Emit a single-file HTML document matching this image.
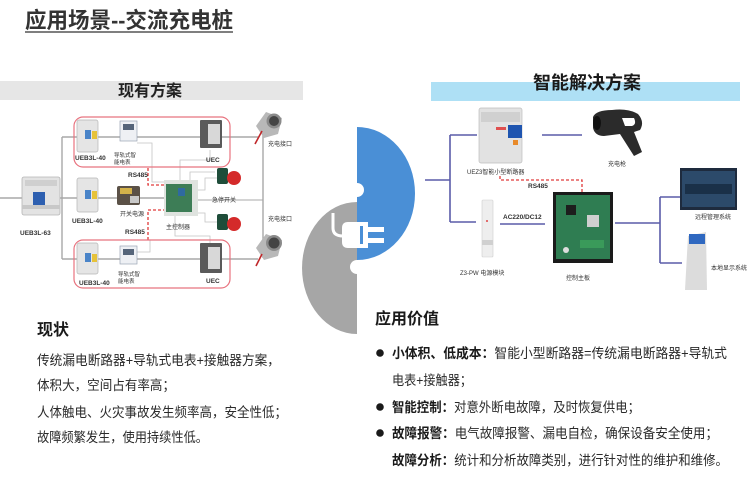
<!DOCTYPE html>
<html><head><meta charset="utf-8">
<style>
html,body{margin:0;padding:0;background:#fff;}
svg{display:block;}
text{font-family:"Liberation Sans","Noto Sans CJK SC",sans-serif;}
</style></head>
<body>
<svg width="750" height="480" viewBox="0 0 750 480" xmlns="http://www.w3.org/2000/svg">
<rect width="750" height="480" fill="#fff"/>

<!-- Title -->
<text x="25" y="28" font-size="22" font-weight="bold" fill="#333" textLength="208" lengthAdjust="spacingAndGlyphs">应用场景--交流充电桩</text>
<line x1="25" y1="32" x2="233" y2="32" stroke="#555" stroke-width="1.5"/>

<!-- Bars -->
<rect x="0" y="81" width="303" height="19" fill="#e6e6e6"/>
<text x="150" y="96" font-size="16" font-weight="bold" fill="#222" text-anchor="middle">现有方案</text>
<rect x="431" y="82" width="309" height="19" fill="#aee0f5"/>
<text x="587" y="89" font-size="18" font-weight="bold" fill="#1a1a1a" text-anchor="middle">智能解决方案</text>

<!-- LEFT DIAGRAM -->
<g stroke="#a8a8a8" stroke-width="1.4" fill="none">
  <line x1="0" y1="198" x2="22" y2="198"/>
  <line x1="60" y1="198" x2="165" y2="198"/>
  <line x1="62" y1="137" x2="62" y2="259"/>
  <line x1="62" y1="137" x2="258" y2="137"/>
  <line x1="62" y1="259" x2="258" y2="259"/>
  <line x1="263" y1="130" x2="263" y2="258"/>
  <line x1="197" y1="200" x2="263" y2="200" stroke-width="1"/>
</g>
<g stroke="#c4c4c4" stroke-width="0.8" fill="none">
  <polyline points="137,143 152,143 152,182 165,182"/>
  <polyline points="180,181 180,160 210,160 210,150"/>
  <polyline points="190,181 190,172 215,172"/>
  <polyline points="197,213 205,213 205,222 217,222"/>
  <polyline points="175,215 175,236 210,236 210,243"/>
  <polyline points="195,190 205,190 205,178 217,178"/>
  <polyline points="137,252 150,252 150,240"/>
</g>

<!-- red dashed RS485 -->
<g stroke="#e03a3a" stroke-width="1.3" stroke-dasharray="3,2" fill="none">
  <polyline points="148,168 148,185 165,185"/>
  <polyline points="148,240 148,210 165,210"/>
</g>

<!-- red rounded frames -->
<rect x="74" y="117" width="156" height="50" rx="9" fill="none" stroke="#e8737f" stroke-width="1.2"/>
<rect x="74" y="240" width="156" height="48" rx="9" fill="none" stroke="#e8737f" stroke-width="1.2"/>

<!-- UEB3L-63 main breaker -->
<rect x="22" y="177" width="38" height="38" rx="2" fill="#e3e3e3" stroke="#b5b5b5" stroke-width="0.8"/>
<rect x="25" y="180" width="32" height="6" fill="#cfcfcf"/>
<rect x="33" y="192" width="12" height="14" fill="#2d5fb0"/>
<rect x="22" y="205" width="38" height="4" fill="#c8c8c8"/>
<text x="20" y="235" font-size="6.5" font-weight="bold" fill="#333">UEB3L-63</text>

<!-- top row -->
<rect x="77" y="120" width="21" height="32" rx="2" fill="#e5e5e5" stroke="#b5b5b5" stroke-width="0.7"/>
<rect x="85" y="130" width="6" height="9" fill="#4a84c8"/>
<rect x="92" y="131" width="5" height="8" fill="#e6c23a"/>
<text x="75" y="160" font-size="6.5" font-weight="bold" fill="#333">UEB3L-40</text>
<rect x="120" y="121" width="17" height="20" fill="#eef0f4" stroke="#9aa4b4" stroke-width="0.7"/>
<rect x="123" y="124" width="11" height="6" fill="#56657a"/>
<text x="114" y="157" font-size="5.5" fill="#333">导轨式智</text>
<text x="114" y="164" font-size="5.5" fill="#333">能电表</text>
<rect x="200" y="120" width="22" height="28" rx="1" fill="#5a5a5a"/>
<rect x="208" y="124" width="12" height="20" fill="#d8d8d8"/>
<text x="206" y="162" font-size="6.5" font-weight="bold" fill="#333">UEC</text>

<!-- middle row -->
<rect x="77" y="178" width="21" height="34" rx="2" fill="#e5e5e5" stroke="#b5b5b5" stroke-width="0.7"/>
<rect x="85" y="190" width="6" height="9" fill="#4a84c8"/>
<rect x="92" y="191" width="5" height="8" fill="#e6c23a"/>
<text x="72" y="223" font-size="6.5" font-weight="bold" fill="#333">UEB3L-40</text>
<rect x="117" y="186" width="23" height="19" rx="2" fill="#5b5147"/>
<rect x="120" y="188" width="12" height="6" fill="#d4b24a"/>
<rect x="130" y="196" width="9" height="7" fill="#c9c9c9"/>
<text x="120" y="216" font-size="6" fill="#333">开关电源</text>
<rect x="164" y="180" width="34" height="36" fill="#dfe3df"/>
<rect x="166" y="184" width="26" height="28" fill="#3d7d56"/>
<rect x="178" y="188" width="7" height="8" fill="#2f6aa0"/>
<text x="166" y="229" font-size="6" fill="#333">主控制器</text>
<text x="128" y="177" font-size="6.5" font-weight="bold" fill="#333">RS485</text>
<text x="125" y="234" font-size="6.5" font-weight="bold" fill="#333">RS485</text>

<!-- bottom row -->
<rect x="77" y="243" width="21" height="31" rx="2" fill="#e5e5e5" stroke="#b5b5b5" stroke-width="0.7"/>
<rect x="85" y="253" width="6" height="9" fill="#4a84c8"/>
<rect x="92" y="254" width="5" height="8" fill="#e6c23a"/>
<text x="79" y="285" font-size="6.5" font-weight="bold" fill="#333">UEB3L-40</text>
<rect x="120" y="246" width="17" height="18" fill="#eef0f4" stroke="#9aa4b4" stroke-width="0.7"/>
<rect x="123" y="249" width="11" height="6" fill="#56657a"/>
<text x="118" y="276" font-size="5.5" fill="#333">导轨式智</text>
<text x="118" y="283" font-size="5.5" fill="#333">能电表</text>
<rect x="200" y="243" width="22" height="30" rx="1" fill="#5a5a5a"/>
<rect x="208" y="247" width="12" height="22" fill="#d8d8d8"/>
<text x="206" y="283" font-size="6.5" font-weight="bold" fill="#333">UEC</text>

<!-- emergency stops -->
<rect x="217" y="168" width="11" height="16" rx="2" fill="#1f4d3a"/>
<circle cx="234" cy="178" r="7" fill="#d42a2a"/>
<rect x="217" y="214" width="11" height="16" rx="2" fill="#1f4d3a"/>
<circle cx="234" cy="224" r="7" fill="#d42a2a"/>
<text x="212" y="202" font-size="6" fill="#333">急停开关</text>

<!-- charging ports -->
<path d="M256,126 L266,112 L282,118 L278,134 L264,138 Z" fill="#b8b8b8"/>
<circle cx="274" cy="121" r="7.5" fill="#8a8a8a"/>
<circle cx="274" cy="121" r="5" fill="#444"/>
<line x1="262" y1="131" x2="255" y2="144" stroke="#c0282a" stroke-width="1.6"/>
<text x="268" y="146" font-size="6" fill="#333">充电接口</text>
<path d="M256,248 L266,234 L282,240 L278,256 L264,260 Z" fill="#b8b8b8"/>
<circle cx="274" cy="243" r="8" fill="#8a8a8a"/>
<circle cx="274" cy="243" r="5.5" fill="#444"/>
<line x1="262" y1="254" x2="256" y2="266" stroke="#c0282a" stroke-width="1.6"/>
<text x="268" y="221" font-size="6" fill="#333">充电接口</text>

<!-- CENTER PUZZLE -->
<path d="M357,202 A55,66 0 0 0 357,334 Z" fill="#a6a6a6"/>
<path d="M357,127 A58,66.5 0 0 1 357,260 Z" fill="#4a8fd6"/>
<circle cx="357" cy="190" r="7" fill="#fff"/>
<circle cx="357" cy="267" r="7" fill="#fff"/>
<!-- plug icon -->
<path d="M333,213 L333,228 Q333,236 343,236" fill="none" stroke="#fff" stroke-width="3"/>
<path d="M348,222 L368,222 L368,248 L348,248 Q342,248 342,242 L342,228 Q342,222 348,222 Z" fill="#fff"/>
<rect x="360" y="226" width="3" height="18" fill="#4a8fd6"/>
<rect x="368" y="227" width="16" height="5" fill="#fff"/>
<rect x="368" y="238" width="16" height="5" fill="#fff"/>

<!-- RIGHT DIAGRAM -->
<g stroke="#5a5ca8" stroke-width="1.6" fill="none">
  <line x1="425" y1="180" x2="450" y2="180"/>
  <line x1="450" y1="135" x2="450" y2="222"/>
  <line x1="450" y1="135" x2="477" y2="135"/>
  <line x1="450" y1="222" x2="476" y2="222"/>
  <line x1="542" y1="135" x2="582" y2="135"/>
  <line x1="500" y1="224" x2="545" y2="224"/>
  <line x1="615" y1="223" x2="660" y2="223"/>
  <line x1="660" y1="197" x2="660" y2="263"/>
  <line x1="660" y1="197" x2="680" y2="197"/>
  <line x1="660" y1="263" x2="682" y2="263"/>
</g>
<polyline points="500,176 500,180 582,180 582,192" fill="none" stroke="#e03a3a" stroke-width="1.3" stroke-dasharray="3,2"/>

<!-- UEZ3 breaker -->
<rect x="479" y="108" width="43" height="55" rx="2" fill="#e2e2e2" stroke="#bdbdbd" stroke-width="0.7"/>
<rect x="481" y="112" width="39" height="10" fill="#d0d0d0"/>
<rect x="508" y="125" width="14" height="13" fill="#1f55b0"/>
<rect x="496" y="127" width="10" height="3" fill="#e05050"/>
<rect x="513" y="140" width="5" height="5" fill="#e88a2a"/>
<text x="467" y="174" font-size="6" fill="#333">UEZ3智能小型断路器</text>
<!-- charger gun -->
<path d="M593,117 Q596,110 612,110 Q628,108 638,114 Q645,122 640,130 L634,132 L642,152 L634,156 L620,134 L604,136 Q595,136 593,128 Z M622,118 L634,118 Q637,124 632,126 L625,126 Z" fill="#2b2b2b" fill-rule="evenodd"/>
<ellipse cx="597" cy="123" rx="4" ry="7" fill="#111"/>
<text x="608" y="166" font-size="6" fill="#333">充电枪</text>
<!-- power module -->
<rect x="482" y="200" width="11" height="57" rx="1" fill="#eeeeee" stroke="#cfcfcf" stroke-width="0.6"/>
<rect x="482" y="240" width="11" height="5" fill="#d0d0d0"/>
<circle cx="487" cy="221" r="1" fill="#d44"/>
<text x="503" y="219" font-size="6.5" font-weight="bold" fill="#333">AC220/DC12</text>
<text x="528" y="188" font-size="6.5" font-weight="bold" fill="#333">RS485</text>
<text x="460" y="275" font-size="6" fill="#333">Z3-PW 电源模块</text>
<!-- control board -->
<rect x="553" y="192" width="60" height="71" fill="#1a1a1a"/>
<rect x="556" y="195" width="54" height="64" fill="#2f7d52"/>
<rect x="566" y="205" width="10" height="10" fill="#1d1d1d"/>
<rect x="587" y="215" width="12" height="12" fill="#cfcfcf"/>
<rect x="580" y="240" width="24" height="8" fill="#3a9a5a"/>
<circle cx="566" cy="250" r="3" fill="#ddd"/>
<text x="566" y="280" font-size="6" fill="#333">控制主板</text>
<!-- remote screen -->
<rect x="680" y="168" width="57" height="42" fill="#1e2b3e"/>
<rect x="682" y="171" width="53" height="36" fill="#2c4a6a"/>
<rect x="685" y="184" width="47" height="10" fill="#1a3048"/>
<text x="695" y="219" font-size="6" fill="#333">远程管理系统</text>
<!-- kiosk -->
<path d="M688,236 L706,232 L707,290 L685,290 Z" fill="#dcdcdc"/>
<rect x="689" y="234" width="16" height="10" fill="#2f68c0"/>
<text x="711" y="270" font-size="6" fill="#333">本地显示系统</text>

<!-- LEFT TEXT -->
<text x="37" y="335" font-size="16" font-weight="bold" fill="#1a1a1a">现状</text>
<g font-size="13.5" fill="#2a2a2a">
<text x="37" y="365" textLength="243" lengthAdjust="spacingAndGlyphs">传统漏电断路器+导轨式电表+接触器方案，</text>
<text x="37" y="390" textLength="138" lengthAdjust="spacingAndGlyphs">体积大，空间占有率高；</text>
<text x="37" y="417" textLength="250" lengthAdjust="spacingAndGlyphs">人体触电、火灾事故发生频率高，安全性低；</text>
<text x="37" y="442" textLength="171" lengthAdjust="spacingAndGlyphs">故障频繁发生，使用持续性低。</text>
</g>

<!-- RIGHT TEXT -->
<text x="375" y="324" font-size="16" font-weight="bold" fill="#1a1a1a">应用价值</text>
<g fill="#1a1a1a">
<circle cx="380" cy="353" r="3.8"/>
<circle cx="380" cy="407" r="3.8"/>
<circle cx="380" cy="433" r="3.8"/>
</g>
<g font-size="13.5" fill="#2a2a2a">
<text x="392" y="358" textLength="335" lengthAdjust="spacingAndGlyphs"><tspan font-weight="bold" fill="#1a1a1a">小体积、低成本：</tspan>智能小型断路器=传统漏电断路器+导轨式</text>
<text x="392" y="385" textLength="80" lengthAdjust="spacingAndGlyphs">电表+接触器；</text>
<text x="392" y="412" textLength="248" lengthAdjust="spacingAndGlyphs"><tspan font-weight="bold" fill="#1a1a1a">智能控制：</tspan>对意外断电故障，及时恢复供电；</text>
<text x="392" y="438" textLength="326" lengthAdjust="spacingAndGlyphs"><tspan font-weight="bold" fill="#1a1a1a">故障报警：</tspan>电气故障报警、漏电自检，确保设备安全使用；</text>
<text x="392" y="465" textLength="336" lengthAdjust="spacingAndGlyphs"><tspan font-weight="bold" fill="#1a1a1a">故障分析：</tspan>统计和分析故障类别，进行针对性的维护和维修。</text>
</g>
</svg>
</body></html>
